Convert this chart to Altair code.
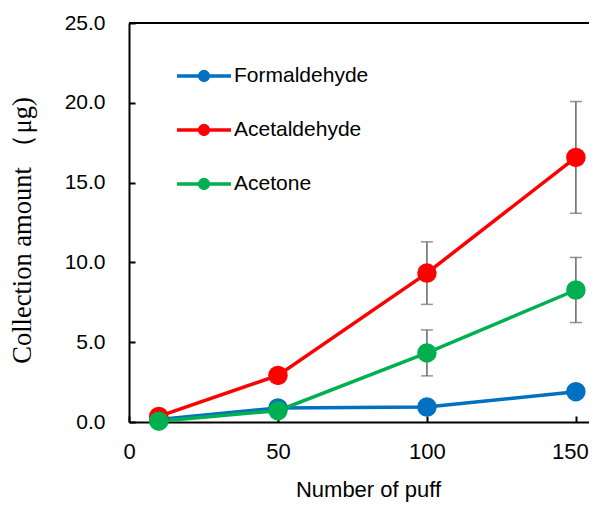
import altair as alt
import pandas as pd

puffs = [10, 50, 100, 150]
series = ["Formaldehyde", "Acetaldehyde", "Acetone"]
formaldehyde = [0.15, 0.88, 0.94, 1.90]
acetaldehyde = [0.35, 2.92, 9.33, 16.58]
acetone = [0.05, 0.71, 4.33, 8.27]
sd_formaldehyde = [0.05, 0.10, 0.10, 0.20]
sd_acetaldehyde = [0.10, 0.40, 1.96, 3.50]
sd_acetone = [0.02, 0.15, 1.44, 2.04]
colors = ["#0070C0", "#FF0000", "#00B050"]

rows = []
for name, vals, sds in [("Formaldehyde", formaldehyde, sd_formaldehyde),
                        ("Acetaldehyde", acetaldehyde, sd_acetaldehyde),
                        ("Acetone", acetone, sd_acetone)]:
    for p, v, s in zip(puffs, vals, sds):
        rows.append({"puff": p, "value": v, "lo": v - s, "hi": v + s,
                     "series": name, "order": series.index(name)})
df = pd.DataFrame(rows)

W, H = 460, 399

xscale = alt.Scale(domain=[0, 154.4], nice=False, zero=False)
yscale = alt.Scale(domain=[0, 25], nice=False)

xaxis = alt.Axis(title="Number of puff", values=[0, 50, 100, 150], ticks=False, tickSize=0,
                 grid=False, labelFont="Liberation Sans", labelFontSize=22, labelColor="#000",
                 labelPadding=19, domainColor="#000", domainWidth=2, labelFlush=False,
                 labelOffset={"condition": {"test": "datum.value == 150", "value": -6}, "value": 0},
                 titleFont="Liberation Sans", titleFontSize=22, titleFontWeight="normal",
                 titleColor="#000", titlePadding=17, titleX=239)
yaxis = alt.Axis(title="Collection amount （μg)", values=[0, 5, 10, 15, 20, 25], format=".1f",
                 ticks=False, tickSize=0, grid=False, labelFont="Liberation Sans", labelFontSize=21,
                 labelColor="#000", labelPadding=24, domainColor="#000", domainWidth=2,
                 titleFont="Liberation Serif", titleFontSize=26.5, titleFontWeight="normal",
                 titleColor="#000", titlePadding=28, titleY=207)


def circ(r):
    return f"M-{r},0A{r},{r} 0 1,1 {r},0A{r},{r} 0 1,1 -{r},0"


sym_path = "M-1,0H1" + circ(0.163) + circ(0.111) + circ(0.0556)

legend = alt.Legend(
    title=None, orient="none", legendX=46, legendY=24, padding=0,
    symbolType=sym_path, symbolSize=2916, symbolStrokeWidth=3.5, symbolOpacity=1,
    labelFont="Liberation Sans", labelFontSize=21, labelColor="#000", labelOffset=1,
    labelLimit=300, rowPadding=13,
)

base = alt.Chart(df)

err = base.mark_errorbar(ticks=True, size=12, thickness=1.5, color="#666666").encode(
    x=alt.X("puff:Q", scale=xscale, axis=xaxis),
    y=alt.Y("lo:Q", scale=yscale, axis=yaxis),
    y2="hi:Q",
)

lines = base.mark_line(strokeWidth=3.5).encode(
    x=alt.X("puff:Q", scale=xscale, axis=xaxis),
    y=alt.Y("value:Q", scale=yscale, axis=yaxis),
    color=alt.Color("series:N", scale=alt.Scale(domain=series, range=colors), legend=legend,
                    sort=series),
    detail="series:N",
)

points = base.mark_circle(size=380, opacity=1).encode(
    x=alt.X("puff:Q", scale=xscale, axis=xaxis),
    y=alt.Y("value:Q", scale=yscale, axis=yaxis),
    color=alt.Color("series:N", scale=alt.Scale(domain=series, range=colors), legend=None,
                    sort=series),
    order="order:Q",
)

spine = base.mark_rule(color="#000", strokeWidth=2).encode(
    x=alt.value(0), x2=alt.value(W), y=alt.value(0)
)

main = alt.layer(err, lines, points, spine)

tickaxis_x = alt.Axis(orient="top", offset=-H, values=[0, 50, 100, 150], labels=False, domain=False,
                      ticks=True, tickSize=6, tickWidth=2, tickColor="#000", title=None, grid=False)
tickaxis_y = alt.Axis(orient="right", offset=-W, values=[0, 5, 10, 15, 20, 25], labels=False,
                      domain=False, ticks=True, tickSize=6, tickWidth=2, tickColor="#000",
                      title=None, grid=False)

tick_layer = base.mark_point(opacity=0).encode(
    x=alt.X("puff:Q", scale=xscale, axis=tickaxis_x),
    y=alt.Y("value:Q", scale=yscale, axis=tickaxis_y),
)

chart = alt.layer(main, tick_layer).resolve_axis(x="independent", y="independent").properties(
    width=W, height=H, autosize=alt.AutoSizeParams(type="none"),
    padding={"left": 121, "top": 15, "right": 0, "bottom": 80}
).configure_view(stroke=None).configure(background="white")

chart.save("out.html", embed_options={"renderer": "svg", "actions": False})
